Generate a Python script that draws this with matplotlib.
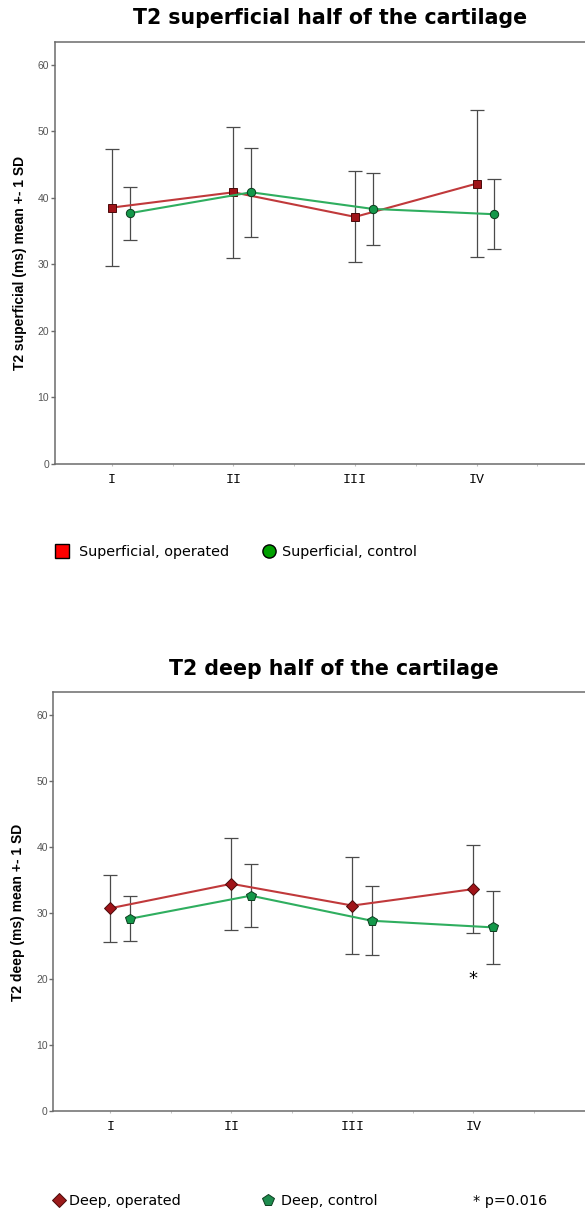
import matplotlib
matplotlib.use("Agg")
import matplotlib.pyplot as plt
from matplotlib.lines import Line2D
import numpy as np

# groups along the x axis
groups = ["I", "II", "III", "IV"]

# T2 superficial half (ms): mean and SD
sup_op_mean = [38.5, 40.8, 37.1, 42.1]
sup_op_sd = [8.75, 9.85, 6.85, 11.0]
sup_ctl_mean = [37.65, 40.8, 38.3, 37.5]
sup_ctl_sd = [3.97, 6.65, 5.4, 5.3]

# T2 deep half (ms): mean and SD
deep_op_mean = [30.7, 34.4, 31.1, 33.6]
deep_op_sd = [5.07, 6.95, 7.35, 6.7]
deep_ctl_mean = [29.1, 32.6, 28.8, 27.8]
deep_ctl_sd = [3.4, 4.8, 5.2, 5.55]

yticks = [0, 10, 20, 30, 40, 50, 60]
signif_group = 3          # index of group IV
signif_y = 20

RED_LINE = "#c0393b"
RED_MARK = "#a01419"
GREEN_LINE = "#2fae5f"
GREEN_MARK = "#14984a"
ERR = "#4a4a4a"
SPINE = "#6b6b6b"


def style_axes(ax, xlim):
    x = np.arange(1, len(groups) + 1)
    ax.set_xlim(*xlim)
    ax.set_ylim(0, 63.4)
    ax.set_yticks(yticks)
    ax.set_yticklabels([str(v) for v in yticks], fontsize=7.5,
                       family="Liberation Sans", color="#555555")
    ax.tick_params(axis="y", length=3, width=1, color=SPINE, pad=1)
    ax.set_xticks(x)
    ax.set_xticklabels(groups, family="Liberation Mono", fontsize=9.5)
    ax.set_xticks(x + 0.5, minor=True)
    ax.tick_params(axis="x", which="both", length=1.5, color="#bbbbbb", pad=6)
    for s in ["left", "top", "bottom"]:
        ax.spines[s].set_color(SPINE)
        ax.spines[s].set_linewidth(1.1)
    ax.spines["right"].set_visible(False)


def draw_pair(ax, op_mean, op_sd, ctl_mean, ctl_sd, op_marker, ctl_marker,
              offset, op_ms, ctl_ms):
    x = np.arange(1, len(groups) + 1)
    xc = x + offset
    ax.errorbar(x, op_mean, yerr=op_sd, fmt="none", ecolor=ERR,
                elinewidth=0.9, capsize=5, capthick=0.9, zorder=1)
    ax.errorbar(xc, ctl_mean, yerr=ctl_sd, fmt="none", ecolor=ERR,
                elinewidth=0.9, capsize=5, capthick=0.9, zorder=1)
    ax.plot(x, op_mean, color=RED_LINE, lw=1.5, marker=op_marker, ms=op_ms,
            mfc=RED_MARK, mec="#4a0a0a", mew=0.7, zorder=3)
    ax.plot(xc, ctl_mean, color=GREEN_LINE, lw=1.5, marker=ctl_marker,
            ms=ctl_ms, mfc=GREEN_MARK, mec="#0b3d1e", mew=0.7, zorder=3)


fig = plt.figure(figsize=(5.85, 12.09), dpi=100)

# --- superficial ---
ax1 = fig.add_axes([0.0937, 0.6165, 1.01 - 0.0937, 0.3488])
draw_pair(ax1, sup_op_mean, sup_op_sd, sup_ctl_mean, sup_ctl_sd,
          "s", "o", 0.145, 6, 6)
style_axes(ax1, (0.530, 4.94))
ax1.set_ylabel("T2 superficial (ms) mean +- 1 SD", family="Liberation Sans",
               fontweight="bold", fontsize=10)
ax1.yaxis.set_label_coords(-0.052, 0.476)
fig.text(0.564, 0.985, "T2 superficial half of the cartilage", ha="center",
         va="center", fontsize=14.8, fontweight="bold", family="DejaVu Sans")

leg_font = {"family": "DejaVu Sans", "size": 10.4}
h1 = Line2D([], [], ls="none", marker="s", ms=9.5, mfc="#ff0000", mec="black", mew=1)
h2 = Line2D([], [], ls="none", marker="o", ms=9.5, mfc="#00a000", mec="black", mew=1)
for h, lab, xa, pad in [(h1, "Superficial, operated", 0.093, 0.7),
                        (h2, "Superficial, control", 0.447, 0.45)]:
    fig.legend(handles=[h], labels=[lab], loc="center left",
               bbox_to_anchor=(xa, 1 - 551.7 / 1209), frameon=False,
               prop=leg_font, handletextpad=pad, handlelength=1.0,
               borderpad=0, borderaxespad=0)

# --- deep ---
ax2 = fig.add_axes([0.0913, 0.0811, 1.01 - 0.0913, 0.3463])
draw_pair(ax2, deep_op_mean, deep_op_sd, deep_ctl_mean, deep_ctl_sd,
          "D", "p", 0.16, 6, 7)
style_axes(ax2, (0.529, 4.97))
ax2.set_ylabel("T2 deep (ms) mean +- 1 SD", family="Liberation Sans",
               fontweight="bold", fontsize=10)
ax2.yaxis.set_label_coords(-0.052, 0.475)
ax2.text(signif_group + 1, signif_y, "*", ha="center", va="center",
         fontsize=13, family="DejaVu Sans")
fig.text(0.571, 1 - 669 / 1209, "T2 deep half of the cartilage", ha="center",
         va="center", fontsize=14.8, fontweight="bold", family="DejaVu Sans")

h3 = Line2D([], [], ls="none", marker="D", ms=7, mfc="#9b1b1b", mec="#4a0a0a", mew=0.7)
h4 = Line2D([], [], ls="none", marker="p", ms=8.5, mfc="#1e8c4e", mec="#0b3d1e", mew=0.7)
for h, lab, xa, pad in [(h3, "Deep, operated", 0.091, 0.3),
                        (h4, "Deep, control", 0.449, 0.45)]:
    fig.legend(handles=[h], labels=[lab], loc="center left",
               bbox_to_anchor=(xa, 1 - 1201 / 1209), frameon=False,
               prop=leg_font, handletextpad=pad, handlelength=0.8,
               borderpad=0, borderaxespad=0)
fig.text(473 / 585, 1 - 1201 / 1209, "* p=0.016", ha="left", va="center",
         fontsize=10.4, family="DejaVu Sans")

fig.savefig("out.png", dpi=100)
